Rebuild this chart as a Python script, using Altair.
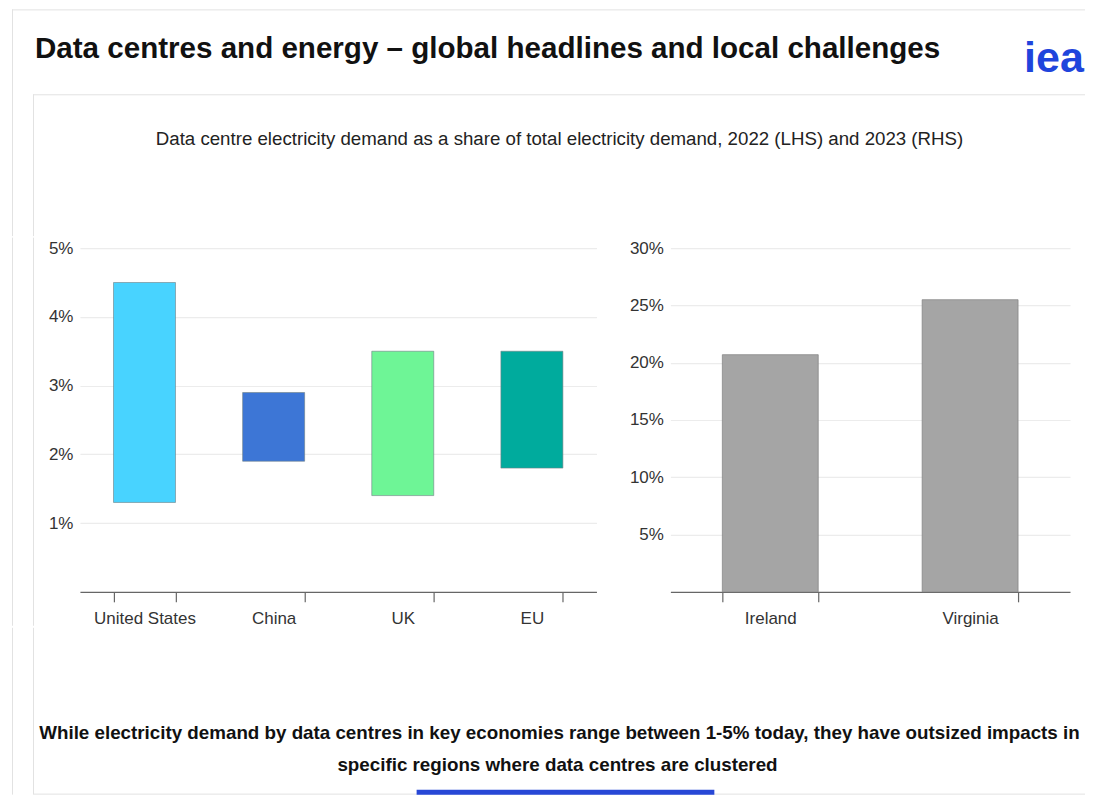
import altair as alt
import pandas as pd

# ---------------- data ----------------
title_text = "Data centres and energy – global headlines and local challenges"
subtitle_text = ("Data centre electricity demand as a share of total electricity demand, "
                 "2022 (LHS) and 2023 (RHS)")
footer_lines = [
    "While electricity demand by data centres in key economies range between 1-5% today, they have outsized impacts in",
    "specific regions where data centres are clustered",
]
logo_text = ["iea"]

lhs_regions = ["United States", "China", "UK", "EU"]
lhs_low = [1.3, 1.9, 1.4, 1.8]      # % share, lower end of range
lhs_high = [4.5, 2.9, 3.5, 3.5]     # % share, upper end of range
lhs_colors = ["#48d3ff", "#3d76d6", "#6ef596", "#00ab9d"]
lhs_ticks = [1, 2, 3, 4, 5]

rhs_regions = ["Ireland", "Virginia"]
rhs_share = [20.7, 25.5]            # % share 2023
rhs_ticks = [5, 10, 15, 20, 25, 30]

FONT = "Liberation Sans, Arial, sans-serif"
W = 1006          # header / footer width (origin is aligned with the left plot)
HEADER_H = 227
FOOTER_H = 167
LEFT_EXT = 72
CARD_LINE = "#e2e2e2"


def one(text):
    return alt.Chart(pd.DataFrame({"t": [text]}))


# ---------------- header ----------------
header = alt.layer(
    one("outer").mark_rule(color=CARD_LINE).encode(
        x=alt.value(-68), x2=alt.value(W), y=alt.value(0.5)),
    one("outer").mark_rule(color=CARD_LINE).encode(
        x=alt.value(-67.5), y=alt.value(0), y2=alt.value(HEADER_H)),
    one("inner").mark_rule(color=CARD_LINE).encode(
        x=alt.value(-47), x2=alt.value(W), y=alt.value(85.5)),
    one("inner").mark_rule(color=CARD_LINE).encode(
        x=alt.value(-46.5), y=alt.value(85), y2=alt.value(HEADER_H)),
    one(title_text).mark_text(align="left", baseline="middle", font=FONT, fontSize=29.6,
                              fontWeight="bold", color="#111").encode(
        x=alt.value(-45), y=alt.value(40), text="t:N"),
    alt.Chart(pd.DataFrame({"t": logo_text})).mark_text(
        align="left", baseline="alphabetic", font=FONT,
        fontSize=43, fontWeight="bold", color="#1f45dc").encode(
        x=alt.value(945), y=alt.value(63), text="t:N"),
    one(subtitle_text).mark_text(
        align="center", baseline="middle", font=FONT, fontSize=18.7, color="#222").encode(
        x=alt.value(480), y=alt.value(130), text="t:N"),
).properties(width=W, height=HEADER_H)


# ---------------- common axis styling ----------------
def x_axis():
    return alt.Axis(labelAngle=0, tickBand="extent", tickSize=10, tickColor="#666",
                    domainColor="#666", domainWidth=1.2, tickWidth=1.2,
                    labelFont=FONT, labelFontSize=17, labelColor="#333",
                    labelPadding=9, grid=False, title=None)


def y_axis(values, min_extent):
    return alt.Axis(values=values, labelExpr="datum.value + '%'", domain=False,
                    ticks=False, gridColor="#ececec", gridWidth=1.2,
                    labelFont=FONT, labelFontSize=17, labelColor="#333",
                    labelPadding=7, minExtent=min_extent, title=None)


# ---------------- left panel (2022) ----------------
lhs_df = pd.DataFrame({"region": lhs_regions, "low": lhs_low, "high": lhs_high})
left_bars = alt.Chart(lhs_df).mark_bar(stroke="#6f7f84", strokeWidth=1, strokeOpacity=0.6).encode(
    x=alt.X("region:N", sort=lhs_regions,
            scale=alt.Scale(paddingInner=0.52, paddingOuter=0.26), axis=x_axis()),
    y=alt.Y("low:Q", scale=alt.Scale(domain=[0, 5], nice=False), axis=y_axis(lhs_ticks, LEFT_EXT)),
    y2="high:Q",
    color=alt.Color("region:N", scale=alt.Scale(domain=lhs_regions, range=lhs_colors),
                    legend=None),
)
left_card = alt.layer(
    one("outer").mark_rule(color=CARD_LINE).encode(
        x=alt.value(-67.5), y=alt.value(-10.5), y2=alt.value(378)),
    one("inner").mark_rule(color=CARD_LINE).encode(
        x=alt.value(-46.5), y=alt.value(-10.5), y2=alt.value(378)),
)
left = alt.layer(left_card, left_bars).properties(width=517, height=344)

# ---------------- right panel (2023) ----------------
rhs_df = pd.DataFrame({"region": rhs_regions, "share": rhs_share})
right = alt.Chart(rhs_df).mark_bar(color="#a5a5a5", stroke="#808080", strokeWidth=1,
                                   strokeOpacity=0.7).encode(
    x=alt.X("region:N", sort=rhs_regions,
            scale=alt.Scale(paddingInner=0.52, paddingOuter=0.26), axis=x_axis()),
    y=alt.Y("share:Q", scale=alt.Scale(domain=[0, 30], nice=False), axis=y_axis(rhs_ticks, 45)),
).properties(width=400, height=344)

middle = alt.hconcat(left, right, spacing=29)

# ---------------- footer ----------------
footer = alt.layer(
    one("outer").mark_rule(color=CARD_LINE).encode(
        x=alt.value(-67.5), y=alt.value(0), y2=alt.value(FOOTER_H)),
    one("inner").mark_rule(color=CARD_LINE).encode(
        x=alt.value(-46.5), y=alt.value(0), y2=alt.value(FOOTER_H - 0.5)),
    one("inner").mark_rule(color=CARD_LINE).encode(
        x=alt.value(-47), x2=alt.value(W), y=alt.value(FOOTER_H - 0.5)),
    one(footer_lines[0]).mark_text(align="center", baseline="middle", font=FONT, fontSize=18.8,
                                   fontWeight="bold", color="#111").encode(
        x=alt.value(480), y=alt.value(105), text="t:N"),
    one(footer_lines[1]).mark_text(align="center", baseline="middle", font=FONT, fontSize=18.8,
                                   fontWeight="bold", color="#111").encode(
        x=alt.value(478), y=alt.value(137), text="t:N"),
    one("bar").mark_rule(color="#2747d6", strokeWidth=5).encode(
        x=alt.value(337), x2=alt.value(635), y=alt.value(FOOTER_H - 2.5)),
).properties(width=W, height=FOOTER_H)

chart = alt.vconcat(header, middle, footer, spacing=0).properties(
    padding=0, background="white"
).configure_view(stroke=None)

chart.save("out.html", embed_options={"renderer": "svg", "actions": False})
